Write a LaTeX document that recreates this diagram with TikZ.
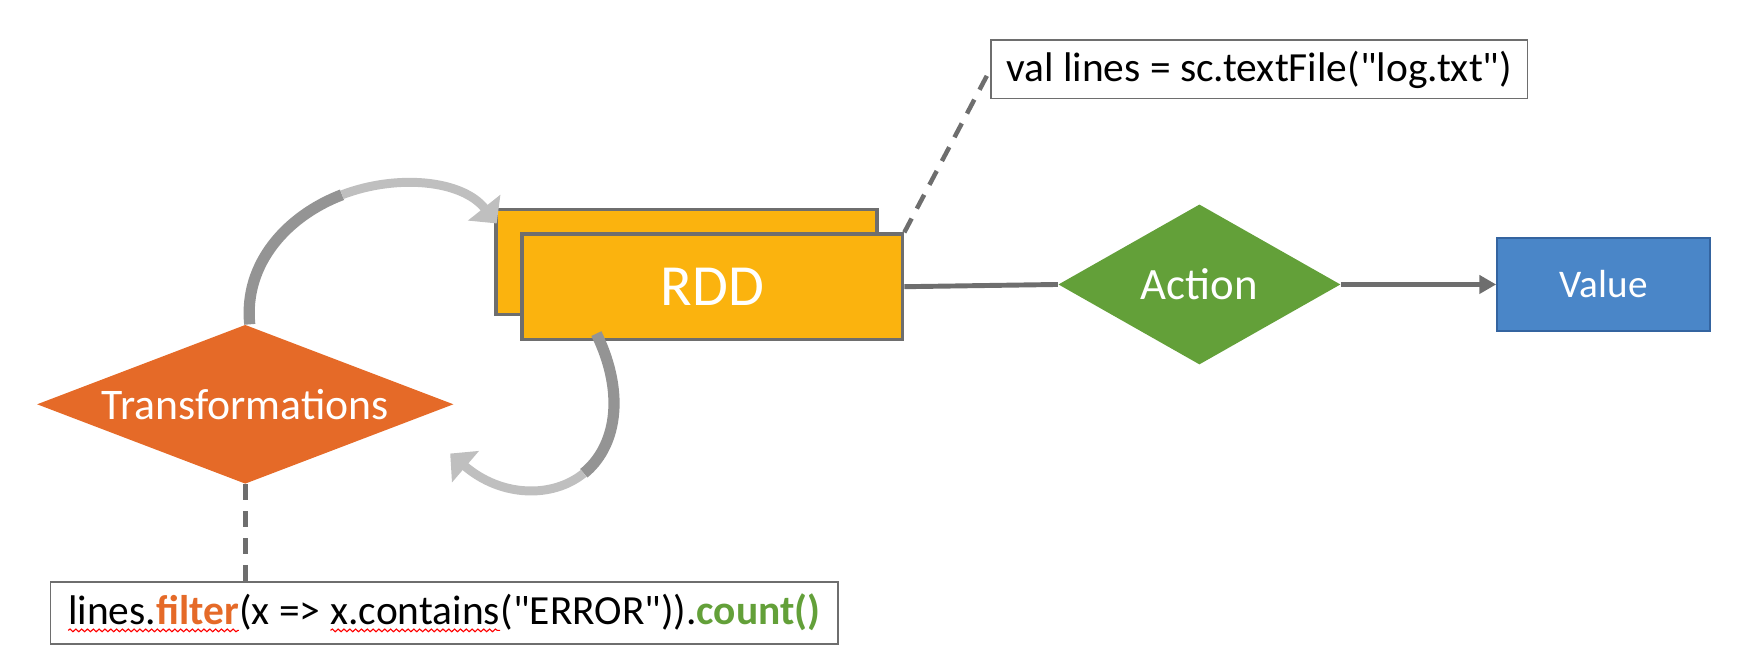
\documentclass[tikz,border=0pt]{standalone}
\usepackage{fontspec}
\setmainfont{Carlito}[Ligatures=TeXOff]
\usetikzlibrary{shapes.geometric,arrows.meta,positioning,decorations.pathmorphing}

\definecolor{rddyellow}{RGB}{251,179,14}
\definecolor{transorange}{RGB}{229,106,40}
\definecolor{actgreen}{RGB}{99,160,57}
\definecolor{valblue}{RGB}{74,134,200}
\definecolor{valedge}{RGB}{52,100,160}
\definecolor{edgegray}{RGB}{110,110,110}
\definecolor{loopdark}{RGB}{148,148,148}
\definecolor{looplight}{RGB}{191,191,191}

\newcommand\squig[1]{\tikz[baseline=(sq.base)]{\node [draw=none, fill=none, inner sep=0pt, outer sep=0pt, minimum width=0pt, minimum height=0pt] (sq) {#1};
	\draw [red, line width=0.5pt, decorate, decoration={snake, amplitude=0.6pt, segment length=2.6pt}] ([yshift=-2.5pt]sq.base west) -- ([yshift=-2.5pt]sq.base east);}}

\begin{document}
\begin{tikzpicture}[x=0.5pt,y=-0.5pt,
		rddbox/.style={draw=edgegray, line width=1.5pt, fill=rddyellow, minimum width=170pt, minimum height=47pt, inner sep=0pt},
		codebox/.style={draw=edgegray, line width=0.8pt, fill=white, inner sep=0pt, font=\fontsize{18.5}{20}\selectfont},
		link/.style={draw=edgegray, line width=2.2pt},
		note/.style={draw=edgegray, line width=2pt, dash pattern=on 7pt off 5pt},
		loopin/.style={draw=loopdark, line width=5pt},
		loopout/.style={draw=looplight, line width=4pt, -{Triangle[width=18pt,length=9pt]}}]
		\useasboundingbox (0,0) rectangle (1568,596.5);
		\node [rddbox] (rddback) at (613,234) {};
		\node [rddbox, text=white, font=\fontsize{26}{28}\selectfont] (rdd) at (636,256) {RDD};
		\node [diamond, fill=actgreen, aspect=1.76, inner sep=0pt, minimum width=126pt, minimum height=71.5pt, text=white, font=\fontsize{20}{22}\selectfont] (action) at (1071,254) {Action};
		\node [draw=valedge, line width=1pt, fill=valblue, minimum width=95pt, minimum height=41.5pt, text=white, font=\fontsize{17.5}{19}\selectfont] (value) at (1432,254) {Value};
		\node [diamond, fill=transorange, aspect=2.6, inner sep=0pt, minimum width=186pt, minimum height=71pt, text=white, font=\fontsize{19.5}{21}\selectfont] (trans) at (219,361) {Transformations};
		\node [codebox, minimum width=351.5pt, minimum height=27.5pt] (filtercode) at (396.5,547.5) {\squig{lines.\textcolor{transorange}{\textbf{filter}}}(x => \squig{x.contains}("ERROR")).\textcolor{actgreen}{\textbf{count()}}};
		\node [codebox, minimum width=239.5pt, minimum height=26pt] (loadcode) at (1124.5,62) {val lines = sc.textFile("log.txt")};
		\coordinate (topbend) at (305.4,173.9);
		\coordinate (lowbend) at (521.25,422.6);
		\draw [link] (rdd.east) -- (action.west);
		\draw [link, -{Triangle[width=8pt,length=7.5pt]}] (action.east) -- (value.west);
		\draw [note] (trans.south) -- (trans.south |- filtercode.north);
		\draw [note] (rdd.north east) -- (loadcode.west);
		\draw [loopin] ([xshift=2pt]trans.north) .. controls (217.5,235) and (256.75,192.5) .. (topbend);
		\draw [loopout] (topbend) .. controls (354.25,155.25) and (412.5,160.5) .. ([shift={(2,14)}]rddback.north west);
		\draw [loopin] ([shift={(68,-6.6)}]rdd.south west) .. controls (559.5,353.5) and (549.25,400) .. (lowbend);
		\draw [loopout] (lowbend) .. controls (493.25,445.25) and (447.5,444) .. (402,405);
\end{tikzpicture}
\end{document}
